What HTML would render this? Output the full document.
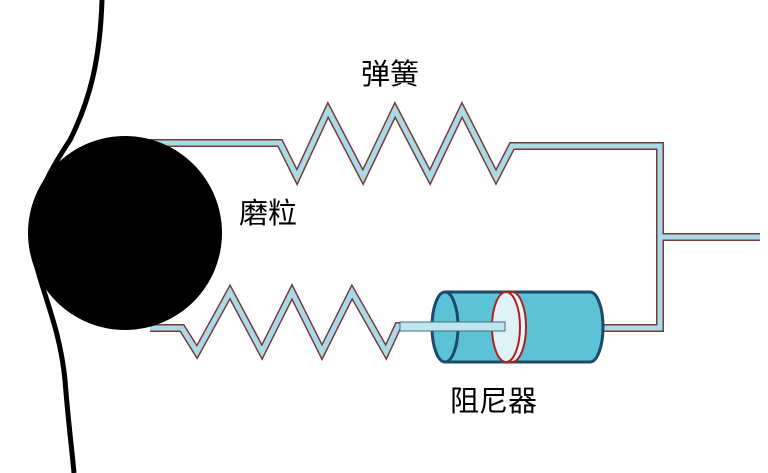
<!DOCTYPE html>
<html><head><meta charset="utf-8"><style>
html,body{margin:0;padding:0;background:#fff;}
svg{display:block}
text{font-family:"Liberation Sans","Noto Sans CJK SC",sans-serif;font-size:29px;fill:#000}
</style></head><body>
<svg width="768" height="473" viewBox="0 0 768 473" xmlns="http://www.w3.org/2000/svg">
<path d="M102,0 C100,60 90,100 70,140 C40,185 25,220 35,260 C45,300 60,330 65,380 C68,420 72,450 74,473" fill="none" stroke="#000" stroke-width="5"/>
<g fill="none" stroke-linejoin="miter">
<g stroke="#7a3a3a" stroke-width="8">
<path d="M145,143 L280,143 L297,177 L328,110 L363,177 L395,110 L430,177 L462,110 L496,177 L512,146 L660,146 L660,328 L600,328"/>
<path d="M660,237 L760,237"/>
<path d="M150,328 L182,328 L197,352 L230,292 L262,352 L292,292 L322,352 L352,292 L386,352 L398,326 L505,326"/>
</g>
<g stroke="#a8dbe6" stroke-width="5">
<path d="M145,143 L280,143 L297,177 L328,110 L363,177 L395,110 L430,177 L462,110 L496,177 L512,146 L660,146 L660,328 L600,328"/>
<path d="M660,237 L760,237"/>
<path d="M150,328 L182,328 L197,352 L230,292 L262,352 L292,292 L322,352 L352,292 L386,352 L398,326 L505,326"/>
</g>
</g>
<circle cx="125" cy="233" r="97" fill="#000"/>
<path d="M445,292 L590,292 A13,35 0 0 1 590,362 L445,362 Z" fill="#5cc2d6" stroke="#1d4a6a" stroke-width="3"/>
<ellipse cx="445" cy="327" rx="13" ry="35" fill="#5cc2d6" stroke="#1d4a6a" stroke-width="3"/>
<ellipse cx="512" cy="327" rx="14" ry="35" fill="#e8f6fa" stroke="#b02020" stroke-width="2"/>
<ellipse cx="506" cy="327" rx="14" ry="35" fill="#dff2f8" stroke="#b02020" stroke-width="2"/>
<rect x="400" y="322" width="105" height="9" fill="#bfe6ef" stroke="#4a6a7a" stroke-width="1"/>
<text x="361" y="84">弹簧</text>
<text x="239" y="223">磨粒</text>
<text x="450" y="411">阻尼器</text>
</svg>
</body></html>
